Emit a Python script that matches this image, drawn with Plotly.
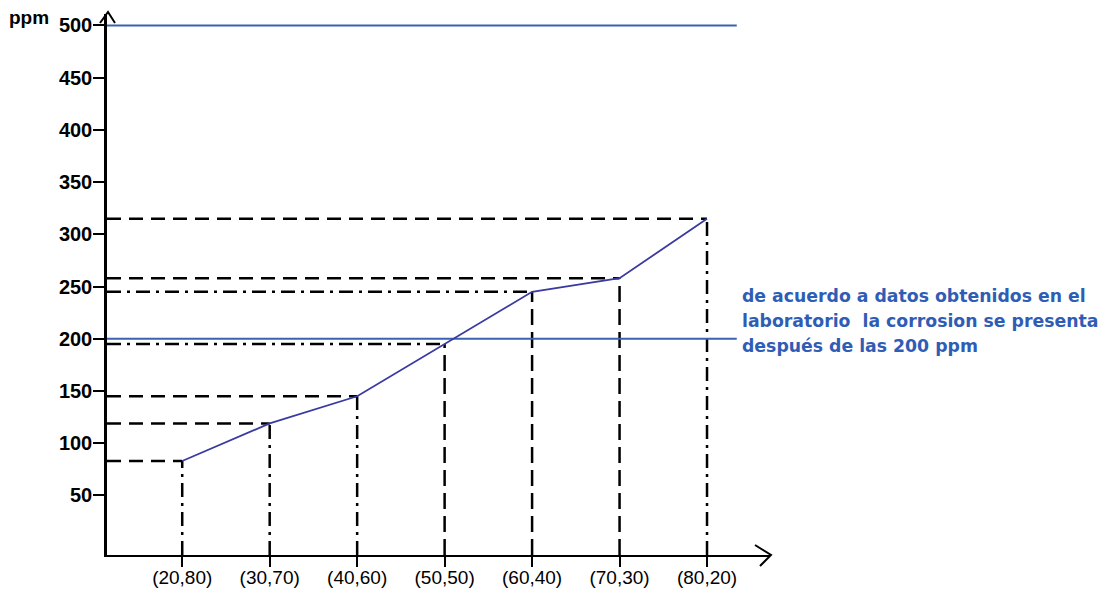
import plotly.graph_objects as go

# ---------------- data ----------------
mix_labels = ["(20,80)", "(30,70)", "(40,60)", "(50,50)", "(60,40)", "(70,30)", "(80,20)"]
ppm_values = [83, 119, 145, 195, 245, 258, 315]
limit_levels = [500, 200]
y_tick_values = [50, 100, 150, 200, 250, 300, 350, 400, 450, 500]
note_lines = ["de acuerdo a datos obtenidos en el",
              "laboratorio  la corrosion se presenta",
              "después de las 200 ppm"]

# ---------------- layout constants ----------------
PAGE_W, PAGE_H = 1115, 597
OFF = 8  # default body margin of the html page (all sides)
W, H = PAGE_W - 2 * OFF, PAGE_H - 2 * OFF
# plot area in page pixels: left 107, right 770, top 14, bottom 555
ML, MT = 107 - OFF, 14 - OFF
MR, MB = (PAGE_W - OFF) - 770, (PAGE_H - OFF) - 555
X_MIN, X_MAX = -0.86, 6.72
Y_MIN, Y_MAX = -7, 511
LIMIT_X_END = 6.34

h_styles = ["14px,8px", "14px,8px", "14px,8px", "14px,6px,3px,6px",
            "14px,6px,3px,6px", "14px,8px", "14px,8px"]
v_styles = ["14px,6px,3px,6px", "14px,6px,3px,6px", "14px,6px,3px,6px",
            "16px,7px", "16px,7px", "16px,7px", "14px,6px,3px,6px"]

x_pos = list(range(len(mix_labels)))
PW, PH = W - ML - MR, H - MT - MB
FONT = "Liberation Sans, Arial, sans-serif"


def px(xp):  # page pixel x -> paper
    return (xp - OFF - ML) / PW


def py(yp):  # page pixel y -> paper
    return (H - MB - (yp - OFF)) / PH


fig = go.Figure()

# guide lines (horizontal to y axis, vertical to x axis)
for i, (xv, yv) in enumerate(zip(x_pos, ppm_values)):
    fig.add_trace(go.Scatter(x=[X_MIN, xv], y=[yv, yv], mode="lines",
                             line=dict(color="black", width=2.5, dash=h_styles[i]),
                             hoverinfo="skip", showlegend=False))
    fig.add_trace(go.Scatter(x=[xv, xv], y=[Y_MIN, yv], mode="lines",
                             line=dict(color="black", width=2.5, dash=v_styles[i]),
                             hoverinfo="skip", showlegend=False))

# limit lines
for lv in limit_levels:
    fig.add_trace(go.Scatter(x=[X_MIN, LIMIT_X_END], y=[lv, lv], mode="lines",
                             line=dict(color="#3a62b3", width=2),
                             hoverinfo="skip", showlegend=False))

# data line
fig.add_trace(go.Scatter(x=x_pos, y=ppm_values, mode="lines",
                         line=dict(color="#3a3aa0", width=1.8),
                         showlegend=False))

# arrow heads
shapes = [
    dict(type="path", xref="paper", yref="paper",
         path=f"M {px(100)} {py(23)} L {px(108)} {py(12)} L {px(115)} {py(23)}",
         line=dict(color="black", width=2)),
    dict(type="path", xref="paper", yref="paper",
         path=f"M {px(755)} {py(545)} L {px(771)} {py(555)} L {px(760)} {py(566)}",
         line=dict(color="black", width=2)),
]

annotations = [
    dict(text="<b>ppm</b>", xref="paper", yref="paper", x=px(7), y=py(18),
         xanchor="left", yanchor="middle", showarrow=False,
         font=dict(family=FONT, size=19, color="black")),
]
for k, line in enumerate(note_lines):
    annotations.append(
        dict(text=f"<b>{line}</b>", xref="paper", yref="paper",
             x=px(740), y=py(296 + 25 * k), xanchor="left", yanchor="middle",
             showarrow=False,
             font=dict(family="DejaVu Sans, Verdana, sans-serif", size=17.3, color="#2f5db5")))

fig.update_layout(
    width=W, height=H,
    margin=dict(l=ML, r=MR, t=MT, b=MB, pad=0, autoexpand=False),
    paper_bgcolor="white", plot_bgcolor="white",
    shapes=shapes, annotations=annotations,
    xaxis=dict(range=[X_MIN, X_MAX], tickmode="array", tickvals=x_pos, ticktext=mix_labels,
               automargin=False,
               showgrid=False, zeroline=False, showline=True, linecolor="black", linewidth=2,
               ticks="outside", ticklen=10, tickwidth=1.5, tickcolor="black",
               ticklabelstandoff=-6,
               tickfont=dict(family=FONT, size=19, color="black")),
    yaxis=dict(range=[Y_MIN, Y_MAX], tickmode="array", tickvals=y_tick_values,
               ticktext=[f"<b>{v}</b>" for v in y_tick_values],
               automargin=False,
               showgrid=False, zeroline=False, showline=True, linecolor="black", linewidth=2.5,
               ticks="outside", ticklen=11, tickwidth=1.5, tickcolor="black",
               ticklabelstandoff=-3,
               tickfont=dict(family=FONT, size=20, color="black")),
)

fig.write_html("out.html")
